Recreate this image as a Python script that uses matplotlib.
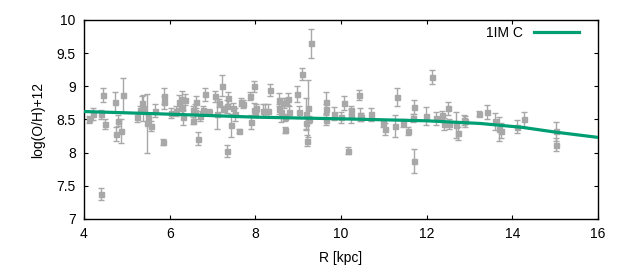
import matplotlib
matplotlib.use("Agg")
import matplotlib.pyplot as plt

# measured HII regions (R in kpc, abundance, error)
r_obs = [4.12, 4.22, 4.40, 4.45, 4.50, 4.40, 4.73, 4.75, 4.79, 4.86, 4.92,
         5.24, 5.31, 5.36, 5.38, 5.48, 5.50, 5.56, 5.67, 5.85, 5.88, 5.88, 6.04,
         6.16, 6.22, 6.29, 6.35, 6.30, 6.32, 6.54, 6.55, 6.60, 6.62, 6.67, 6.72,
         6.79, 6.83, 6.93, 7.07, 7.11, 7.16, 7.23, 7.25, 7.35, 7.37, 7.35, 7.44,
         7.49, 7.53, 7.63, 7.66, 7.72, 7.88, 7.91, 7.97, 7.98, 8.02, 8.00,
         8.17, 8.23, 8.30, 8.35, 8.56, 8.56, 8.61, 8.68, 8.72, 8.77, 8.79, 8.70,
         8.70, 8.98, 9.01, 9.10, 9.18, 9.18, 9.23, 9.21, 9.26, 9.31, 9.65, 9.65,
         9.64, 9.84, 10.01, 10.07, 10.17, 10.24, 10.24, 10.43, 10.45, 10.48,
         10.71, 10.99, 11.03, 11.27, 11.32, 11.46, 11.57, 11.71, 11.69, 11.71,
         11.99, 12.12, 12.23, 12.35, 12.41, 12.51, 12.53, 12.69, 12.74, 12.87,
         12.90, 13.23, 13.42, 13.60, 13.70, 13.74, 14.12, 14.28, 15.03, 15.03]
oh_obs = [8.50, 8.58, 8.58, 8.87, 8.43, 7.38, 8.76, 8.28, 8.48, 8.33, 8.87,
          8.53, 8.65, 8.75, 8.67, 8.44, 8.52, 8.40, 8.63, 8.16, 8.85, 8.76, 8.60,
          8.63, 8.77, 8.81, 8.80, 8.67, 8.53, 8.48, 8.65, 8.62, 8.76, 8.21, 8.55,
          8.64, 8.88, 8.61, 8.85, 8.58, 8.75, 9.01, 8.66, 8.70, 8.83, 8.03, 8.41,
          8.67, 8.58, 8.33, 8.76, 8.74, 8.86, 8.46, 8.65, 9.00, 8.68, 8.61,
          8.63, 8.63, 8.63, 8.95, 8.80, 8.66, 8.61, 8.75, 8.76, 8.81, 8.62, 8.34,
          8.53, 8.88, 8.61, 9.18, 8.59, 8.44, 8.67, 8.18, 8.50, 9.65, 8.76, 8.66,
          8.49, 8.59, 8.53, 8.75, 8.03, 8.64, 8.55, 8.87, 8.57, 8.54,
          8.58, 8.44, 8.35, 8.40, 8.84, 8.44, 8.33, 8.69, 8.52, 7.88,
          8.55, 9.14, 8.52, 8.57, 8.43, 8.67, 8.43, 8.42, 8.29, 8.49,
          8.47, 8.59, 8.61, 8.47, 8.35, 8.33, 8.39, 8.50, 8.32, 8.12]
err_obs = [0.05, 0.09, 0.07, 0.10, 0.08, 0.09, 0.15, 0.10, 0.08, 0.18, 0.25,
           0.07, 0.05, 0.10, 0.20, 0.44, 0.05, 0.08, 0.10, 0.05, 0.12, 0.10, 0.08,
           0.08, 0.10, 0.12, 0.08, 0.08, 0.11, 0.05, 0.06, 0.12, 0.09, 0.10, 0.08,
           0.06, 0.10, 0.05, 0.08, 0.23, 0.06, 0.16, 0.05, 0.10, 0.09, 0.09, 0.18,
           0.08, 0.10, 0.03, 0.06, 0.06, 0.06, 0.10, 0.10, 0.08, 0.06, 0.05,
           0.10, 0.10, 0.10, 0.09, 0.10, 0.08, 0.15, 0.08, 0.06, 0.09, 0.09, 0.04,
           0.05, 0.12, 0.09, 0.09, 0.23, 0.10, 0.43, 0.08, 0.05, 0.22, 0.16, 0.08,
           0.08, 0.10, 0.08, 0.10, 0.05, 0.06, 0.11, 0.08, 0.10, 0.06,
           0.10, 0.05, 0.09, 0.16, 0.13, 0.06, 0.06, 0.10, 0.06, 0.18,
           0.14, 0.10, 0.10, 0.06, 0.09, 0.10, 0.08, 0.20, 0.10, 0.08,
           0.08, 0.04, 0.11, 0.13, 0.18, 0.11, 0.10, 0.11, 0.14, 0.10]

# model gradient
r_mod = [4.0, 6.0, 8.0, 10.0, 12.0, 13.25, 14.25, 15.0, 16.0]
oh_mod = [8.62, 8.58, 8.535, 8.51, 8.48, 8.44, 8.38, 8.31, 8.23]

plt.rcParams['font.family'] = ['Liberation Sans', 'DejaVu Sans']

fig = plt.figure(figsize=(6.3, 2.8), dpi=100)
ax = fig.add_axes([0.1333, 0.218, 0.8157, 0.7106])

ax.errorbar(r_obs, oh_obs, yerr=err_obs, fmt='s', color='#a8a8a8',
            ms=3.6, elinewidth=1.0, capsize=2.2, capthick=1.0, zorder=2)
ax.plot(r_mod, oh_mod, color='#009e73', lw=2.3, label='1IM C', zorder=3)

ax.set_xlim(4, 16)
ax.set_ylim(7, 10)
ax.set_xticks(range(4, 17, 2))
ax.set_yticks([7, 7.5, 8, 8.5, 9, 9.5, 10])
ax.set_yticklabels(['7', '7.5', '8', '8.5', '9', '9.5', '10'])
ax.tick_params(direction='in', top=True, right=True, length=3, width=0.8,
               labelsize=10, pad=6)
for s in ax.spines.values():
    s.set_linewidth(1.0)

ax.set_xlabel('R [kpc]', fontsize=10, labelpad=7)
ax.set_ylabel('log(O/H)+12', fontsize=10, labelpad=8)

ax.legend(loc='upper right', bbox_to_anchor=(0.982, 1.02), frameon=False,
          markerfirst=False, fontsize=10, handlelength=3.2,
          borderaxespad=0.3, handletextpad=0.8)

fig.savefig('out.png', dpi=100)
